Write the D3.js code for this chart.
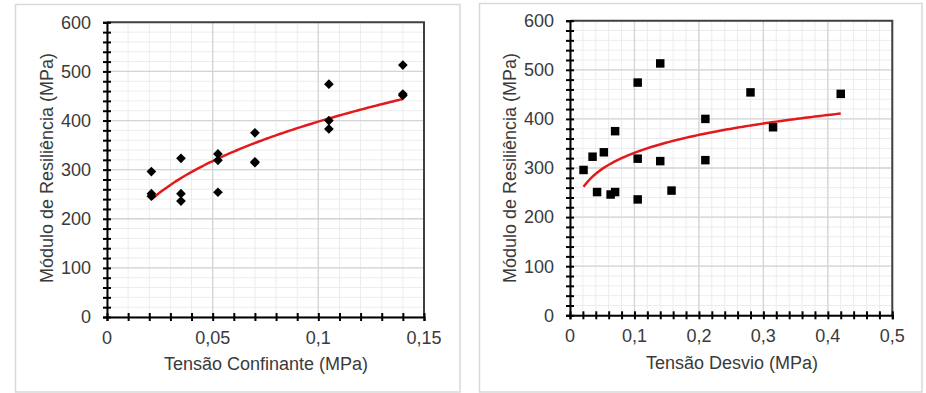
<!DOCTYPE html>
<html><head><meta charset="utf-8">
<script src="https://cdn.jsdelivr.net/npm/d3@7"></script>
<style>body{margin:0;background:#fff}svg{display:block}text{font-family:"Liberation Sans",Arial,sans-serif;fill:#3a3a3a}</style>
</head><body><svg id="c" width="926" height="393"></svg>
<script>
// Data: confining stress (σ3), deviator stress (σd), resilient modulus (MR)
const sigma3 = [0.021,0.021,0.021, 0.035,0.035,0.035, 0.0525,0.0525,0.0525, 0.07,0.07,0.07, 0.105,0.105,0.105, 0.14,0.14,0.14];
const sigmaD = [0.021,0.042,0.063, 0.035,0.07,0.105, 0.0525,0.105,0.1575, 0.07,0.14,0.21, 0.105,0.21,0.315, 0.14,0.28,0.42];
const mr     = [296,251,246, 323,251,236, 332,319,254, 375,314,316, 474,400,383, 513,454,451];
const xTicksLeft = [0,0.05,0.1,0.15];
const xTicksRight = [0,0.1,0.2,0.3,0.4,0.5];
const yTicks = [0,100,200,300,400,500,600];
const xLabelLeft = "Tensão Confinante (MPa)";
const xLabelRight = "Tensão Desvio (MPa)";
const yLabel = "Módulo de Resiliência (MPa)";

const svg = d3.select("#c");
const fmt = v => String(v).replace(".", ",");

function powerFit(xs, ys){
  const lx = xs.map(Math.log), ly = ys.map(Math.log);
  const n = xs.length, mx = d3.mean(lx), my = d3.mean(ly);
  let sxy=0,sxx=0;
  for(let i=0;i<n;i++){sxy+=(lx[i]-mx)*(ly[i]-my);sxx+=(lx[i]-mx)**2;}
  const b = sxy/sxx, a = Math.exp(my-b*mx);
  return x => a*Math.pow(x,b);
}

function chart(o){
  const g = svg.append("g");
  g.append("rect").attr("x",o.panel[0]).attr("y",o.panel[1]).attr("width",o.panel[2]).attr("height",o.panel[3])
    .attr("fill","#fff").attr("stroke","#d9d9d9").attr("stroke-width",1.5);
  const x = d3.scaleLinear().domain([0,o.xmax]).range(o.xr);
  const y = d3.scaleLinear().domain([0,600]).range(o.yr);
  // minor grid
  g.append("g").selectAll("line").data(d3.range(0,o.xmax+1e-9,o.xminor)).join("line")
    .attr("x1",d=>x(d)).attr("x2",d=>x(d)).attr("y1",o.yr[0]).attr("y2",o.yr[1]).attr("stroke","#ececec").attr("stroke-width",1);
  g.append("g").selectAll("line").data(d3.range(0,601,20)).join("line")
    .attr("y1",d=>y(d)).attr("y2",d=>y(d)).attr("x1",o.xr[0]).attr("x2",o.xr[1]).attr("stroke","#ececec").attr("stroke-width",1);
  // major grid
  g.append("g").selectAll("line").data(o.xticks).join("line")
    .attr("x1",d=>x(d)).attr("x2",d=>x(d)).attr("y1",o.yr[0]).attr("y2",o.yr[1]).attr("stroke","#d4d4d4").attr("stroke-width",1.3);
  g.append("g").selectAll("line").data(yTicks).join("line")
    .attr("y1",d=>y(d)).attr("y2",d=>y(d)).attr("x1",o.xr[0]).attr("x2",o.xr[1]).attr("stroke","#d4d4d4").attr("stroke-width",1.3);
  // plot frame top/right
  g.append("path").attr("d",`M${o.xr[0]},${o.yr[1]}H${o.xr[1]}V${o.yr[0]}`).attr("fill","none").attr("stroke","#404040").attr("stroke-width",2);
  // axes with crossing ticks
  const yAx = g.append("g").attr("transform",`translate(${o.xr[0]},0)`)
    .call(d3.axisLeft(y).tickValues(d3.range(0,601,20)).tickSize(4).tickFormat(""));
  yAx.selectAll(".tick line").attr("x2",4).attr("x1",-4);
  const xAx = g.append("g").attr("transform",`translate(0,${o.yr[0]})`)
    .call(d3.axisBottom(x).tickValues(d3.range(0,o.xmax+1e-9,o.xtickstep)).tickSize(4).tickFormat(""));
  xAx.selectAll(".tick line").attr("y1",-4).attr("y2",4);
  g.selectAll(".domain").attr("stroke","#000").attr("stroke-width",2);
  g.selectAll(".tick line").attr("stroke","#000").attr("stroke-width",2);
  // tick labels
  g.append("g").selectAll("text").data(yTicks).join("text")
    .attr("x",o.xr[0]-16).attr("y",d=>y(d)).attr("dy","0.35em").attr("text-anchor","end")
    .attr("font-size",18).text(d=>d);
  g.append("g").selectAll("text").data(o.xticks).join("text")
    .attr("x",d=>x(d)).attr("y",o.yr[0]+27).attr("text-anchor","middle")
    .attr("font-size",18).text(fmt);
  // axis titles
  g.append("text").attr("x",o.xtitle[0]).attr("y",o.xtitle[1]).attr("text-anchor","middle").attr("font-size",18).text(o.xlabel);
  g.append("text").attr("transform",`translate(${o.ytitle[0]},${o.ytitle[1]}) rotate(-90)`).attr("text-anchor","middle")
    .attr("dy","0.35em").attr("font-size",18).text(yLabel);
  // trend line
  const f = powerFit(o.xs, mr);
  const ext = d3.extent(o.xs);
  const pts = d3.range(0,101).map(i=>ext[0]+(ext[1]-ext[0])*i/100);
  g.append("path").attr("d",d3.line().x(d=>x(d)).y(d=>y(f(d)))(pts)).attr("fill","none").attr("stroke","#e31a1c").attr("stroke-width",2.5);
  // markers
  g.append("g").selectAll("path").data(o.xs.map((v,i)=>[v,mr[i]])).join("path")
    .attr("transform",d=>`translate(${x(d[0])},${y(d[1])})`)
    .attr("d",d3.symbol().type(o.symbol).size(o.symsize)).attr("fill","#000");
}

chart({panel:[15.5,4.5,444.5,387.5], xr:[107,424], yr:[317,22.3], xmax:0.15, xminor:0.01, xtickstep:0.01,
  xticks:xTicksLeft, xs:sigma3, xlabel:xLabelLeft, xtitle:[266,370], ytitle:[47,168],
  symbol:d3.symbolDiamond2, symsize:60});
chart({panel:[479.5,3.5,442.5,388.5], xr:[570,892.3], yr:[315.3,20.7], xmax:0.5, xminor:0.02, xtickstep:0.02,
  xticks:xTicksRight, xs:sigmaD, xlabel:xLabelRight, xtitle:[732,369], ytitle:[510,168],
  symbol:d3.symbolSquare, symsize:72});
</script></body></html>
